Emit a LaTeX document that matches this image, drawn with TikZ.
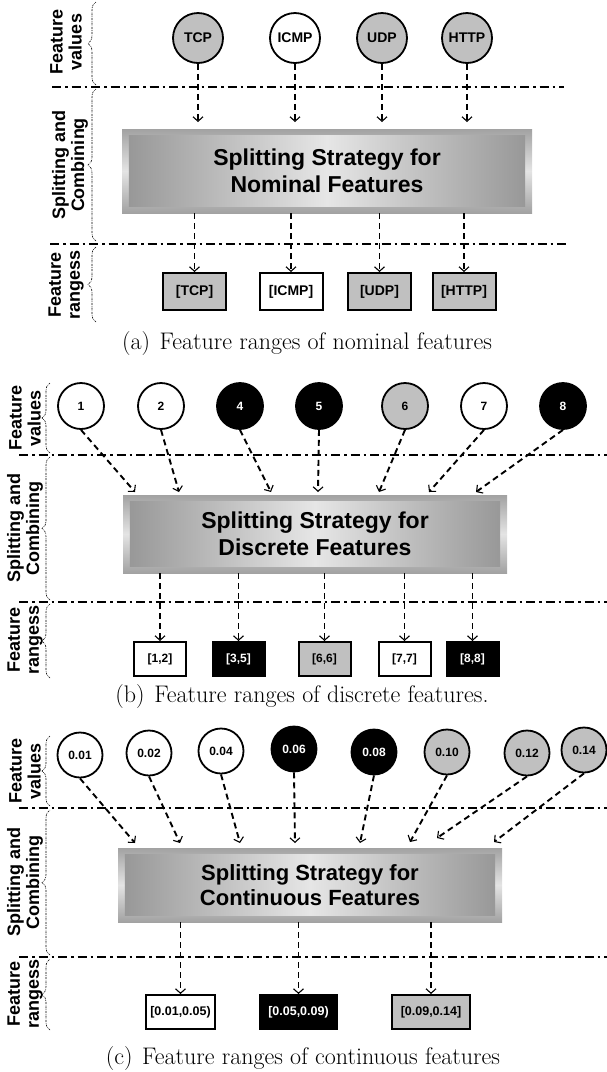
\documentclass[tikz,border=0pt]{standalone}
\usepackage{fontspec}
\newfontfamily\arial{Liberation Sans}
\usetikzlibrary{arrows.meta,decorations.pathreplacing,calc}
\definecolor{sil}{HTML}{C0C0C0}
\definecolor{bxdark}{HTML}{989898}
\definecolor{bxlight}{HTML}{E6E6E6}
\definecolor{frdark}{HTML}{A2A2A2}
\definecolor{frlight}{HTML}{E4E4E4}
\begin{document}
\begin{tikzpicture}[x=1pt,y=-1pt,
  sep/.style={line width=2pt, dash pattern=on 9pt off 4pt on 2.5pt off 4pt},
  flow/.style={line width=1.9pt, dash pattern=on 6pt off 4pt, -{Straight Barb[length=4.5pt,width=10pt,line width=1.1pt]}},
  brc/.style={decorate, decoration={brace,amplitude=8pt}, line width=0.6pt, dash pattern=on 2pt off 1pt on 0.6pt off 1pt},
  val/.style={circle, draw, line width=1.8pt, inner sep=0pt},
  rng/.style={rectangle, draw, line width=2pt, inner sep=0pt},
  outerbox/.style={rectangle, inner sep=0pt, top color=frdark, bottom color=frdark, middle color=frlight},
  innerbox/.style={left color=bxdark, right color=bxdark, middle color=bxlight},
  boxtext/.style={align=center, inner sep=0pt, font=\arial\bfseries\fontsize{23}{27}\selectfont},
  lab/.style={rotate=90, align=center, inner sep=0pt, font=\arial\bfseries\fontsize{18}{19}\selectfont},
  capt/.style={inner sep=0pt, font=\fontsize{24}{28}\selectfont}
]
\useasboundingbox (0,0) rectangle (607,1072);

% ================= panel (a) =================
\begin{scope}[val/.append style={minimum size=50pt, font=\arial\bfseries\fontsize{14}{16}\selectfont},
              rng/.append style={minimum width=63pt, minimum height=37pt, font=\arial\bfseries\fontsize{14}{16}\selectfont}]
\draw[sep] (52,87) -- (564,87);
\draw[sep] (50,244) -- (569,244);
\node[val, fill=sil]   (a1) at (198,38) {TCP};
\node[val, fill=white] (a2) at (295,38) {ICMP};
\node[val, fill=sil]   (a3) at (382,38) {UDP};
\node[val, fill=sil]   (a4) at (467,38) {HTTP};
\node[outerbox, minimum width=410pt, minimum height=84pt] (A) at (327,171) {};
\fill[innerbox] ($(A.north west)+(7,7)$) rectangle ($(A.south east)+(-7,-7)$);
\node[boxtext] (At) at (A.center) {Splitting Strategy for\\Nominal Features};
\foreach \i/\x in {1/198,2/295,3/382,4/467}{
  \coordinate (ta\i) at (\x,122);
  \draw[flow] (a\i.south) -- (ta\i);
}
\node[rng, fill=sil]   (ra1) at (194.5,291.5) {[TCP]};
\node[rng, fill=white] (ra2) at (291,291.5) {[ICMP]};
\node[rng, fill=sil]   (ra3) at (379.5,291.5) {[UDP]};
\node[rng, fill=sil]   (ra4) at (464,291.5) {[HTTP]};
\foreach \i in {1,...,4}{
  \draw[flow] (ra\i.north |- A.south) -- (ra\i.north);
}
\node[lab] (la1) at (66,42) {Feature\\values};
\node[lab] (la2) at (70,165) {Splitting and\\Combining};
\node[lab] (la3) at (66,285) {Feature\\rangess};
\draw[brc] (96,85) -- (96,2);
\draw[brc] (96,241) -- (96,89);
\draw[brc] (96,322) -- (96,247);
\node[capt] (capa) at (307,344) {(a)\hspace{0.4em}Feature ranges of nominal features};
\end{scope}

% ================= panel (b) =================
\begin{scope}[val/.append style={minimum size=46pt, font=\arial\bfseries\fontsize{12}{14}\selectfont},
              rng/.append style={minimum width=52pt, minimum height=34pt, font=\arial\bfseries\fontsize{12}{14}\selectfont}]
\draw[sep] (19,455) -- (607,455);
\draw[sep] (19,602) -- (607,602);
\node[val, fill=white]            (b1) at (81,406)  {1};
\node[val, fill=white]            (b2) at (161,406) {2};
\node[val, fill=black, text=white] (b3) at (240,406) {4};
\node[val, fill=black, text=white] (b4) at (319,406) {5};
\node[val, fill=sil]              (b5) at (405,406) {6};
\node[val, fill=white]            (b6) at (484,406) {7};
\node[val, fill=black, text=white] (b7) at (563,406) {8};
\node[outerbox, minimum width=384pt, minimum height=78pt] (B) at (315,534) {};
\fill[innerbox] ($(B.north west)+(7,7)$) rectangle ($(B.south east)+(-7,-7)$);
\node[boxtext] (Bt) at (B.center) {Splitting Strategy for\\Discrete Features};
\foreach \i/\x in {1/135,2/179,3/271,4/318,5/379,6/429,7/476}{
  \coordinate (tb\i) at (\x,492);
  \draw[flow] (b\i.south) -- (tb\i);
}
\node[rng, fill=white]             (rb1) at (160,659)   {[1,2]};
\node[rng, fill=black, text=white] (rb2) at (238.5,659) {[3,5]};
\node[rng, fill=sil]               (rb3) at (324.5,659) {[6,6]};
\node[rng, fill=white]             (rb4) at (404.5,659) {[7,7]};
\node[rng, fill=black, text=white] (rb5) at (472.5,659) {[8,8]};
\foreach \i in {1,...,5}{
  \draw[flow] (rb\i.north |- B.south) -- (rb\i.north);
}
\node[lab] (lb1) at (25,418) {Feature\\values};
\node[lab] (lb2) at (25,528) {Splitting and\\Combining};
\node[lab] (lb3) at (25,640) {Feature\\rangess};
\draw[brc] (50,453) -- (50,383);
\draw[brc] (50,600) -- (50,457);
\draw[brc] (50,678) -- (50,604);
\node[capt] (capb) at (302,697) {(b)\hspace{0.4em}Feature ranges of discrete features.};
\end{scope}

% ================= panel (c) =================
\begin{scope}[val/.append style={minimum size=45pt, font=\arial\bfseries\fontsize{12}{14}\selectfont},
              rng/.append style={minimum height=34pt, font=\arial\bfseries\fontsize{12.5}{14}\selectfont}]
\draw[sep] (19,808) -- (607,808);
\draw[sep] (19,957) -- (607,957);
\node[val, fill=white]             (c1) at (80,755)  {0.01};
\node[val, fill=white]             (c2) at (149,753) {0.02};
\node[val, fill=white]             (c3) at (221,751) {0.04};
\node[val, fill=black, text=white] (c4) at (294,749) {0.06};
\node[val, fill=black, text=white] (c5) at (374,752) {0.08};
\node[val, fill=sil]               (c6) at (447,752) {0.10};
\node[val, fill=sil]               (c7) at (527,753) {0.12};
\node[val, fill=sil]               (c8) at (584,750) {0.14};
\node[outerbox, minimum width=384pt, minimum height=74pt] (C) at (310,885) {};
\fill[innerbox] ($(C.north west)+(7,7)$) rectangle ($(C.south east)+(-7,-7)$);
\node[boxtext, font=\arial\bfseries\fontsize{22}{25}\selectfont] (Ct) at (C.center) {Splitting Strategy for\\Continuous Features};
\foreach \i/\x/\y in {1/135/843,2/180/843,3/240/843,4/295/843,5/360/843,6/410/842,7/437/838,8/494/842}{
  \coordinate (tc\i) at (\x,\y);
  \draw[flow] (c\i.south) -- (tc\i);
}
\node[rng, fill=white, minimum width=69pt]             (rc1) at (180.5,1012) {[0.01,0.05)};
\node[rng, fill=black, text=white, minimum width=77pt] (rc2) at (298.5,1012) {[0.05,0.09)};
\node[rng, fill=sil, minimum width=78pt]               (rc3) at (431,1012)   {[0.09,0.14]};
\foreach \i in {1,2,3}{
  \draw[flow] (rc\i.north |- C.south) -- (rc\i.north);
}
\node[lab] (lc1) at (25,771) {Feature\\values};
\node[lab] (lc2) at (25,882) {Splitting and\\Combining};
\node[lab] (lc3) at (25,994) {Feature\\rangess};
\draw[brc] (50,806) -- (50,736);
\draw[brc] (50,955) -- (50,810);
\draw[brc] (50,1030) -- (50,959);
\node[capt] (capc) at (303,1058) {(c)\hspace{0.4em}Feature ranges of continuous features};
\end{scope}
\end{tikzpicture}
\end{document}
